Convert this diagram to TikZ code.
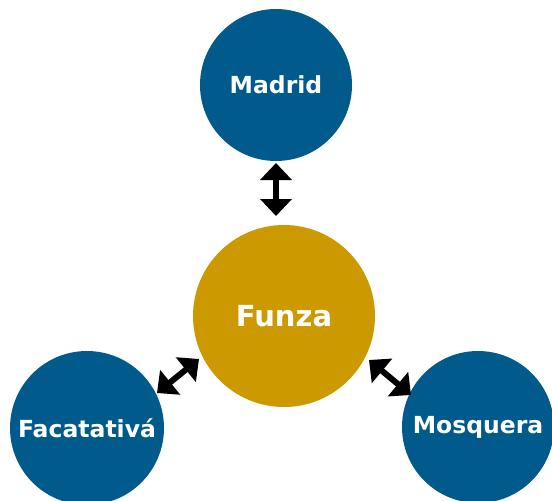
\documentclass[tikz,border=0pt]{standalone}
\usepackage{fontspec}
\setmainfont{DejaVu Sans}
\usetikzlibrary{arrows.meta}
\definecolor{cityblue}{HTML}{005A8B}
\definecolor{hubgold}{HTML}{CC9900}
\tikzset{
  city/.style={circle, fill=cityblue, inner sep=0pt, minimum size=152pt, text=white, font=\bfseries\fontsize{23.5}{26}\selectfont},
  hub/.style={circle, fill=hubgold, inner sep=0pt, minimum size=182pt, text=white, font=\bfseries\fontsize{29}{33}\selectfont},
  link/.style={line width=6pt, {Triangle[width=31pt,length=17pt]}-{Triangle[width=31pt,length=17pt]}, black}
}
\begin{document}
\begin{tikzpicture}[x=1pt,y=-1pt]
\useasboundingbox (0,0) rectangle (552,501);
\node[city] (madrid) at (276,85) {Madrid};
\node[hub] (funza) at (284,316) {Funza};
\node[city, minimum size=154pt] (fac) at (87,428) {Facatativá};
\node[city] (mos) at (478,427) {Mosquera};
\draw[link] ([shift={(0,78)}]madrid.center) -- ([shift={(-8,-100)}]funza.center);
\draw[link] ([shift={(70,-35)}]fac.center) -- ([shift={(-85,43)}]funza.center);
\draw[link] ([shift={(-67,-32)}]mos.center) -- ([shift={(85,44)}]funza.center);
\end{tikzpicture}
\end{document}
